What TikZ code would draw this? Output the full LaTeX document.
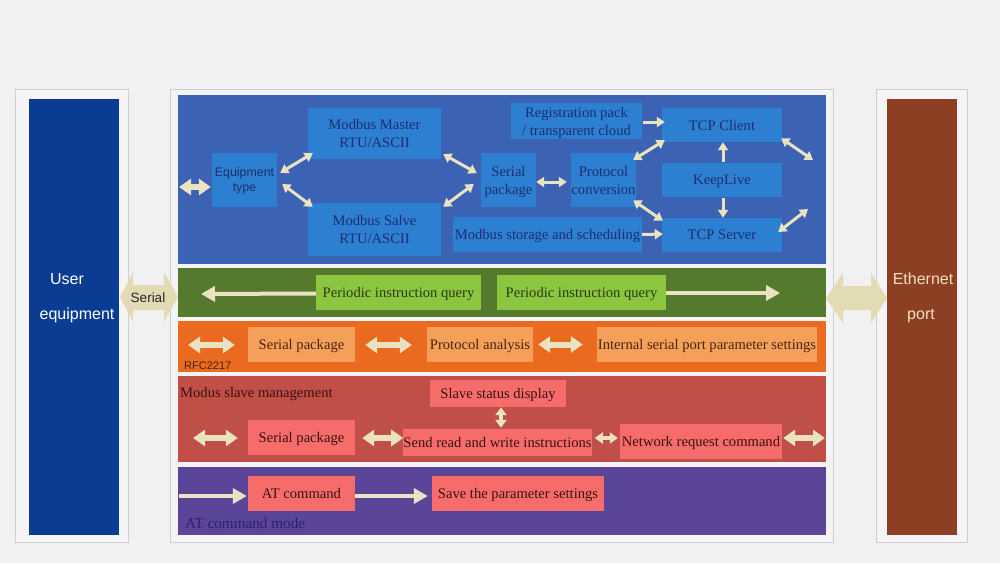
\documentclass[tikz,border=0pt]{standalone}
\usepackage{fontspec}
\setmainfont{Liberation Serif}
\setsansfont{Liberation Sans}
\usetikzlibrary{arrows.meta,calc}
\definecolor{bg}{HTML}{F1F1F3}
\definecolor{framefill}{HTML}{F4F4F6}
\definecolor{frameline}{HTML}{CDCDD2}
\definecolor{userblue}{HTML}{0B3C94}
\definecolor{brownbar}{HTML}{8C3F22}
\definecolor{panelblue}{HTML}{3C62B4}
\definecolor{boxblue}{HTML}{2D7FD1}
\definecolor{navytext}{HTML}{1E2E6E}
\definecolor{greenband}{HTML}{557A2E}
\definecolor{greenbox}{HTML}{8CC640}
\definecolor{greentext}{HTML}{2A3A18}
\definecolor{orangeband}{HTML}{EA6A1F}
\definecolor{orangebox}{HTML}{F5A05A}
\definecolor{orangetext}{HTML}{4A2510}
\definecolor{redband}{HTML}{BF4F47}
\definecolor{redbox}{HTML}{F66C6A}
\definecolor{redtext}{HTML}{3A1212}
\definecolor{purpleband}{HTML}{5B4599}
\definecolor{purpletext}{HTML}{2B2170}
\definecolor{beige}{HTML}{EAE2C0}
\definecolor{bigbeige}{HTML}{E2DBB4}
\definecolor{cream}{HTML}{F5DEC0}
\begin{document}
\begin{tikzpicture}[x=1pt,y=-1pt,
  bx/.style={inner sep=0pt, align=center, text depth=0pt, font=\fontsize{14.6}{18}\selectfont},
  bluebox/.style={bx, fill=boxblue, text=navytext},
  greenbx/.style={bx, fill=greenbox, text=greentext},
  orangebx/.style={bx, fill=orangebox, text=orangetext},
  redbx/.style={bx, fill=redbox, text=redtext},
  arr/.style={draw=beige, line width=3pt, -{Triangle[width=10pt,length=8pt]}},
  darr/.style={draw=beige, line width=3pt, {Triangle[width=10pt,length=8pt]}-{Triangle[width=10pt,length=8pt]}},
  larr/.style={draw=beige, line width=4pt, -{Triangle[width=15pt,length=14pt]}},
  fat/.style={draw=beige, line width=6pt, {Triangle[width=16pt,length=12pt]}-{Triangle[width=16pt,length=12pt]}},
  midarr/.style={draw=beige, line width=4pt, {Triangle[width=11pt,length=8pt]}-{Triangle[width=11pt,length=8pt]}},
  frame/.style={draw=frameline, fill=framefill, line width=1pt},
  sidetext/.style={font=\sffamily\fontsize{16}{19}\selectfont, inner sep=0pt},
  label/.style={inner sep=0pt, anchor=west, font=\fontsize{14.6}{18}\selectfont}
]
\useasboundingbox (0,0) rectangle (1000,563);
\fill[bg] (0,0) rectangle (1000,563);

% frames
\draw[frame] (15,89) rectangle (128,542);
\draw[frame] (170,89) rectangle (833,542);
\draw[frame] (876,89) rectangle (967,542);

% side bars
\fill[userblue] (29,99) rectangle (119,535);
\fill[brownbar] (887,99) rectangle (957,535);
\node[sidetext, text=white] (user) at (67,279) {User};
\node[sidetext, text=white] (equip) at (77,315) {equipment};
\node[sidetext, text=cream] (eth) at (923,279) {Ethernet};
\node[sidetext, text=cream] (port) at (921,316) {port};

% bands
\fill[panelblue] (178,95) rectangle (826,264);
\fill[greenband] (178,268) rectangle (826,317);
\fill[orangeband] (178,321) rectangle (826,372);
\fill[redband] (178,376) rectangle (826,462);
\fill[purpleband] (178,467) rectangle (826,535);

% big side arrows
\fill[bigbeige] (120,297) -- (133,272) -- (133,285) -- (164,285) -- (164,272) -- (178,297)
  -- (164,322) -- (164,310) -- (133,310) -- (133,322) -- cycle;
\node[font=\sffamily\fontsize{13.5}{15}\selectfont, text=black!85, inner sep=0pt] (serial) at (148,298) {Serial};
\fill[bigbeige] (826,298) -- (843,273) -- (843,286) -- (871,286) -- (871,273) -- (887,298)
  -- (871,323) -- (871,310) -- (843,310) -- (843,323) -- cycle;

% ---- blue panel
\node[bluebox, font=\sffamily\fontsize{12.4}{15}\selectfont, minimum width=65pt, minimum height=54pt] (eq) at (244.5,180) {Equipment\\type};
\node[bluebox, minimum width=133pt, minimum height=51pt] (master) at (374.5,133.5) {Modbus Master\\RTU/ASCII};
\node[bluebox, minimum width=133pt, minimum height=53pt] (salve) at (374.5,229.5) {Modbus Salve\\RTU/ASCII};
\node[bluebox, minimum width=55pt, minimum height=54pt] (spk) at (508.5,180) {Serial\\package};
\node[bluebox, minimum width=189pt, minimum height=35pt] (store) at (547.5,234.5) {Modbus storage and scheduling};
\node[bluebox, minimum width=131pt, minimum height=36pt] (reg) at (576.5,121) {Registration pack\\/ transparent cloud};
\node[bluebox, minimum width=65pt, minimum height=54pt] (proto) at (603.5,180) {Protocol\\conversion};
\node[bluebox, minimum width=120pt, minimum height=34pt] (client) at (722,125) {TCP Client};
\node[bluebox, minimum width=120pt, minimum height=34pt] (keep) at (722,180) {KeepLive};
\node[bluebox, minimum width=120pt, minimum height=34pt] (server) at (722,235) {TCP Server};
\coordinate (cr) at (813,160);
\coordinate (sr) at (808,209);
\coordinate (inl) at (179,187);

\draw[fat] (inl) -- ($(eq.west)+(-1,7)$);
\draw[darr] ($(eq.north east)+(3,20)$) -- ($(master.south west)+(5,-6)$);
\draw[darr] ($(eq.east)+(5,4)$) -- ($(salve.north west)+(5,4)$);
\draw[darr] ($(master.south east)+(2,-5)$) -- ($(spk.west)+(-4,-7)$);
\draw[darr] ($(salve.north east)+(2,4)$) -- ($(spk.west)+(-7,4)$);
\draw[darr] ($(spk.east)+(0,2)$) -- ($(proto.west)+(-4,2)$);
\draw[arr] ($(reg.east)+(1,1)$) -- ($(client.west)+(3,-3)$);
\draw[darr] ($(proto.north east)+(-3,7)$) -- ($(client.south west)+(3,-2)$);
\draw[darr] ($(proto.south east)+(-3,-7)$) -- ($(server.north west)+(1,3)$);
\draw[arr] ($(keep.north)+(1,-1)$) -- ($(client.south)+(1,0)$);
\draw[arr] ($(keep.south)+(1,1)$) -- ($(server.north)+(1,0)$);
\draw[arr] (store.east) -- ($(server.west)+(1,-1)$);
\draw[darr] ($(client.south east)+(-1,-4)$) -- (cr);
\draw[darr] ($(server.east)+(-4,-3)$) -- (sr);

% ---- green band
\node[greenbx, minimum width=165pt, minimum height=35pt] (g1) at (398.5,292.5) {Periodic instruction query};
\node[greenbx, minimum width=169pt, minimum height=35pt] (g2) at (581.5,292.5) {Periodic instruction query};
\coordinate (gl) at (201,294);
\coordinate (gr) at (780,293);
\draw[larr] ($(g1.west)+(0,1)$) -- (gl);
\draw[larr] ($(g2.east)+(0,0.5)$) -- (gr);

% ---- orange band
\node[orangebx, minimum width=107pt, minimum height=35pt] (o1) at (301.5,344.5) {Serial package};
\node[orangebx, minimum width=106pt, minimum height=35pt] (o2) at (480,344.5) {Protocol analysis};
\node[orangebx, minimum width=220pt, minimum height=35pt] (o3) at (707,344.5) {Internal serial port parameter settings};
\coordinate (ol) at (188,345);
\draw[fat] (ol) -- ($(o1.west)+(-13,0.5)$);
\draw[fat] ($(o1.east)+(10,0.5)$) -- ($(o2.west)+(-15,0.5)$);
\draw[fat] ($(o2.east)+(5,0)$) -- ($(o3.west)+(-14,0)$);
\node[inner sep=0pt, anchor=west, font=\sffamily\fontsize{11}{13}\selectfont, text=orangetext] (rfc) at (184,366) {RFC2217};

% ---- red band
\node[label, text=redtext] (msm) at (180,394) {Modus slave management};
\node[redbx, minimum width=136pt, minimum height=27pt] (ssd) at (498,393.5) {Slave status display};
\node[redbx, minimum width=107pt, minimum height=35pt] (r1) at (301.5,437.5) {Serial package};
\node[redbx, minimum width=187pt, minimum height=27pt] (srw) at (497.5,442.5) {Send read and write instructions};
\node[redbx, minimum width=162pt, minimum height=35pt] (nrc) at (701,441.5) {Network request command};
\coordinate (rl) at (193,438);
\coordinate (rr) at (825,438);
\draw[midarr] ($(ssd.south)+(3,0)$) -- ($(srw.north)+(3.5,-1)$);
\draw[fat] (rl) -- ($(r1.west)+(-10,0.5)$);
\draw[fat] ($(r1.east)+(7,0.5)$) -- ($(srw.west)+(0,-4.5)$);
\draw[midarr] ($(srw.east)+(3,-4.5)$) -- ($(nrc.west)+(-2,-3.5)$);
\draw[fat] ($(nrc.east)+(1,-3.5)$) -- (rr);

% ---- purple band
\node[redbx, minimum width=107pt, minimum height=35pt] (at) at (301.5,493.5) {AT command};
\node[redbx, minimum width=172pt, minimum height=35pt] (save) at (518,493.5) {Save the parameter settings};
\coordinate (pl) at (179,496);
\draw[larr] (pl) -- ($(at.west)+(-1,2.5)$);
\draw[larr] ($(at.east)+(0,2.5)$) -- ($(save.west)+(-4,2.5)$);
\node[label, text=purpletext, font=\fontsize{15.2}{18}\selectfont] (atm) at (185,523) {AT command mode};
\end{tikzpicture}
\end{document}
